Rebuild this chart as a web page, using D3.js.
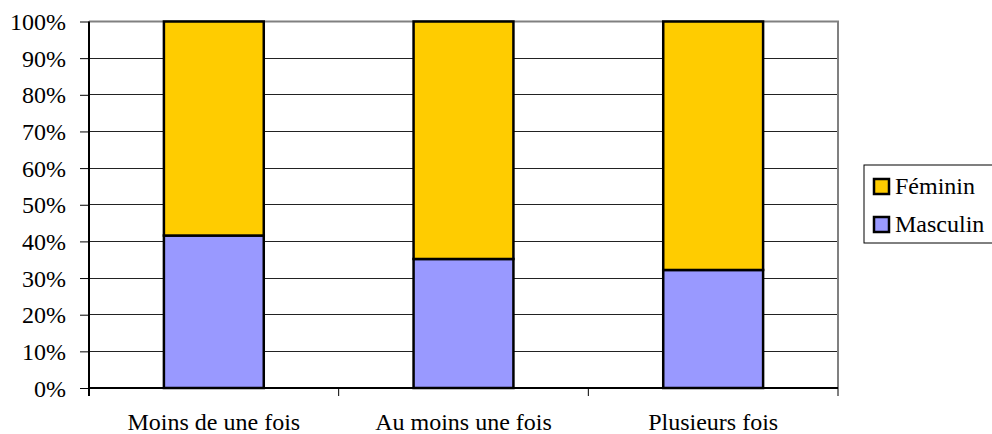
<!DOCTYPE html>
<html><head><meta charset="utf-8">
<script src="https://cdn.jsdelivr.net/npm/d3@7"></script>
</head>
<body style="margin:0">
<svg id="chart" width="992" height="434"></svg>
<script>
const categories = ["Moins de une fois", "Au moins une fois", "Plusieurs fois"];
const masculin = [41.6, 35.2, 32.2];
const feminin = [58.4, 64.8, 67.8];
const seriesNames = ["Masculin", "Féminin"];
const seriesColors = ["#9999FF", "#FFCC00"];
const yTicks = [0, 10, 20, 30, 40, 50, 60, 70, 80, 90, 100];

const FONT = "'Liberation Serif'";
const svg = d3.select("#chart");
const pLeft = 89, pRight = 838, pTop = 21.5, pBottom = 388;
const fs = 24;

const x = d3.scaleBand().domain(categories).range([pLeft, pRight]).paddingInner(0).paddingOuter(0);
const y = d3.scaleLinear().domain([0, 100]).range([pBottom, pTop]);

// gridlines
svg.append("g").selectAll("line").data(yTicks.filter(d => d > 0 && d < 100)).join("line")
  .attr("x1", pLeft).attr("x2", pRight)
  .attr("y1", d => y(d)).attr("y2", d => y(d))
  .attr("stroke", "#222").attr("stroke-width", 1).attr("shape-rendering", "crispEdges");

// plot border top/right (grey)
svg.append("path")
  .attr("d", `M${pLeft},${pTop} H${pRight} V${pBottom}`)
  .attr("fill", "none").attr("stroke", "#808080").attr("stroke-width", 2);

// bars
const table = categories.map((c, i) => ({cat: c, Masculin: masculin[i], "Féminin": feminin[i]}));
const stack = d3.stack().keys(seriesNames)(table);
const bw = x.bandwidth() * 0.4;
svg.append("g").selectAll("g").data(stack).join("g")
  .attr("fill", (d, i) => seriesColors[i])
  .selectAll("rect").data(d => d).join("rect")
  .attr("x", d => x(d.data.cat) + (x.bandwidth() - bw) / 2)
  .attr("width", bw)
  .attr("y", d => y(d[1]))
  .attr("height", d => y(d[0]) - y(d[1]))
  .attr("stroke", "#000").attr("stroke-width", 2.5);

// y axis
const yAxis = d3.axisLeft(y).tickValues(yTicks).tickFormat(d => d + "%").tickSize(9).tickPadding(14);
const gy = svg.append("g").attr("transform", `translate(${pLeft},0)`).call(yAxis);
gy.attr("font-family", null).attr("font-size", null);
gy.select(".domain").attr("stroke", "#000").attr("stroke-width", 2).attr("d", `M0,${pTop}V${pBottom + 8}`);
gy.selectAll(".tick line").attr("stroke", "#000").attr("stroke-width", 1);
gy.selectAll(".tick text").attr("dy", "0.34em").attr("fill", "#000")
  .style("font-family", FONT).attr("font-size", fs);

// x axis
const gx = svg.append("g").attr("transform", `translate(0,${pBottom})`);
gx.append("line").attr("x1", pLeft).attr("x2", pRight).attr("y1", 0).attr("y2", 0)
  .attr("stroke", "#000").attr("stroke-width", 2);
const bounds = categories.map(c => x(c)).concat([pRight]);
gx.selectAll("line.tk").data(bounds).join("line").attr("class", "tk")
  .attr("x1", d => d).attr("x2", d => d).attr("y1", 0).attr("y2", 8)
  .attr("stroke", "#000").attr("stroke-width", 1);
gx.selectAll("text").data(categories).join("text")
  .attr("x", d => x(d) + x.bandwidth() / 2).attr("y", 42)
  .attr("text-anchor", "middle")
  .style("font-family", FONT).attr("font-size", fs).text(d => d);

// legend
const lg = svg.append("g");
lg.append("rect").attr("x", 864).attr("y", 165).attr("width", 140).attr("height", 78)
  .attr("fill", "#fff").attr("stroke", "#000").attr("stroke-width", 1);
const legendItems = [{name: "Féminin", color: seriesColors[1]}, {name: "Masculin", color: seriesColors[0]}];
legendItems.forEach((d, i) => {
  const yy = 186 + i * 38;
  lg.append("rect").attr("x", 874).attr("y", yy - 7).attr("width", 15).attr("height", 15)
    .attr("fill", d.color).attr("stroke", "#000").attr("stroke-width", 2.5);
  lg.append("text").attr("x", 895).attr("y", yy + 8)
    .style("font-family", FONT).attr("font-size", fs).text(d.name);
});
</script>
</body></html>
